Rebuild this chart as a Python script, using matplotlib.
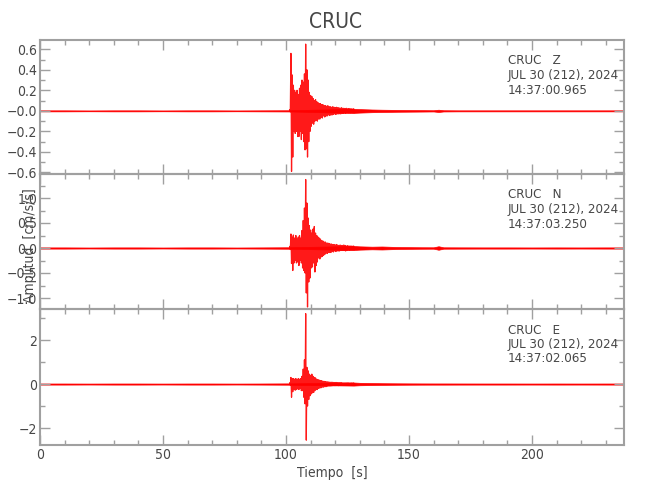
import numpy as np
import matplotlib
matplotlib.use("Agg")
import matplotlib.pyplot as plt
from matplotlib import font_manager
from matplotlib.ticker import MultipleLocator, FixedLocator

# narrow font like the IDL one, if a condensed face is around
cond = [f for f in font_manager.fontManager.ttflist
        if f.name == "DejaVu Sans" and "condensed" in str(f.stretch)]
if cond:
    plt.rcParams['font.family'] = ['DejaVu Sans']
    plt.rcParams['font.stretch'] = 'condensed'
else:
    plt.rcParams['font.family'] = ['Liberation Sans', 'DejaVu Sans']

# event window, envelope peaks every 0.5 s
t_event = np.arange(101.5, 128.0, 0.5)

z_up = [0.01, 0.56, 0.35, 0.25, 0.20, 0.18, 0.20, 0.16, 0.22, 0.25, 0.30, 0.28, 0.36, 0.65,
        0.40, 0.30, 0.18, 0.15, 0.14, 0.12, 0.10, 0.11, 0.09, 0.08, 0.07, 0.07, 0.06, 0.06,
        0.05, 0.05, 0.045, 0.05, 0.04, 0.04, 0.035, 0.04, 0.035, 0.03, 0.035, 0.03, 0.03,
        0.025, 0.03, 0.025, 0.025, 0.022, 0.025, 0.02, 0.022, 0.02, 0.02, 0.018, 0.02]
z_dn = [-0.01, -0.59, -0.45, -0.20, -0.22, -0.20, -0.25, -0.25, -0.20, -0.28, -0.22, -0.30,
        -0.38, -0.37, -0.45, -0.30, -0.20, -0.15, -0.12, -0.13, -0.10, -0.09, -0.10, -0.08,
        -0.08, -0.06, -0.07, -0.05, -0.06, -0.05, -0.05, -0.04, -0.045, -0.04, -0.04, -0.035,
        -0.03, -0.035, -0.03, -0.03, -0.028, -0.03, -0.025, -0.025, -0.022, -0.025, -0.02,
        -0.022, -0.02, -0.02, -0.018, -0.02, -0.018]

n_up = [0.03, 0.28, 0.22, 0.26, 0.20, 0.25, 0.18, 0.22, 0.25, 0.20, 0.35, 0.55, 0.80, 1.37,
        0.90, 0.60, 0.45, 0.36, 0.30, 0.38, 0.43, 0.30, 0.25, 0.22, 0.20, 0.18, 0.15, 0.14,
        0.12, 0.12, 0.10, 0.10, 0.09, 0.08, 0.08, 0.07, 0.07, 0.06, 0.07, 0.06, 0.05, 0.06,
        0.05, 0.05, 0.06, 0.05, 0.04, 0.045, 0.04, 0.04, 0.04, 0.035, 0.04]
n_dn = [-0.03, -0.31, -0.45, -0.30, -0.25, -0.30, -0.28, -0.35, -0.25, -0.30, -0.40, -0.45,
        -0.50, -0.90, -1.18, -0.68, -0.60, -0.40, -0.38, -0.30, -0.48, -0.35, -0.28, -0.20,
        -0.22, -0.18, -0.17, -0.15, -0.13, -0.10, -0.11, -0.09, -0.09, -0.09, -0.07, -0.08,
        -0.06, -0.07, -0.06, -0.06, -0.06, -0.05, -0.05, -0.05, -0.05, -0.06, -0.05, -0.04,
        -0.045, -0.04, -0.04, -0.04, -0.035]

e_up = [0.05, 0.30, 0.25, 0.25, 0.22, 0.25, 0.20, 0.25, 0.22, 0.25, 0.35, 0.68, 1.10, 3.20,
        0.76, 0.60, 0.45, 0.40, 0.45, 0.35, 0.30, 0.28, 0.22, 0.20, 0.18, 0.16, 0.15, 0.13,
        0.12, 0.11, 0.10, 0.10, 0.09, 0.08, 0.08, 0.08, 0.07, 0.07, 0.07, 0.06, 0.06, 0.06,
        0.06, 0.05, 0.05, 0.05, 0.05, 0.05, 0.05, 0.04, 0.05, 0.04, 0.05]
e_dn = [-0.05, -0.60, -0.35, -0.25, -0.28, -0.25, -0.22, -0.25, -0.20, -0.30, -0.30, -0.60,
        -0.90, -2.55, -1.00, -0.70, -0.53, -0.45, -0.40, -0.38, -0.30, -0.25, -0.25, -0.20,
        -0.18, -0.17, -0.14, -0.14, -0.12, -0.12, -0.10, -0.09, -0.09, -0.09, -0.08, -0.07,
        -0.07, -0.07, -0.06, -0.07, -0.06, -0.06, -0.05, -0.06, -0.05, -0.05, -0.05, -0.05,
        -0.04, -0.05, -0.04, -0.05, -0.04]

# quiet parts (noise level before and after the event)
t_quiet = [0, 10, 20, 30, 40, 50, 60, 70, 80, 90, 101.5, 127.5, 130, 135, 139, 145, 150,
           155, 160, 162, 164, 170, 180, 190, 200, 210, 220, 230, 237.4]
z_quiet = [0.005, 0.005, 0.004, 0.005, 0.005, 0.004, 0.005, 0.005, 0.004, 0.005, 0.006, 0.02,
           0.017, 0.013, 0.011, 0.009, 0.008, 0.007, 0.006, 0.011, 0.006, 0.005, 0.005, 0.005,
           0.005, 0.005, 0.005, 0.005, 0.005]
n_quiet = [0.012, 0.012, 0.01, 0.012, 0.012, 0.01, 0.012, 0.012, 0.01, 0.012, 0.015, 0.04,
           0.033, 0.026, 0.03, 0.02, 0.017, 0.015, 0.014, 0.035, 0.014, 0.013, 0.012, 0.012,
           0.011, 0.012, 0.011, 0.012, 0.012]
e_quiet = [0.025, 0.025, 0.022, 0.025, 0.025, 0.022, 0.025, 0.025, 0.022, 0.025, 0.03, 0.07,
           0.055, 0.045, 0.038, 0.033, 0.03, 0.028, 0.027, 0.027, 0.027, 0.026, 0.025, 0.025,
           0.024, 0.025, 0.024, 0.025, 0.025]

channels = ["Z", "N", "E"]
start_times = ["14:37:00.965", "14:37:03.250", "14:37:02.065"]
date_label = "JUL 30 (212), 2024"
station = "CRUC"

ylims = [(-0.615, 0.69), (-1.22, 1.48), (-2.77, 3.41)]
yticks = [[-0.6, -0.4, -0.2, 0.0, 0.2, 0.4, 0.6], [-1.0, -0.5, 0.0, 0.5, 1.0], [-2, 0, 2]]
yticklabels = [["\u22120.6", "\u22120.4", "\u22120.2", "\u22120.0", "0.2", "0.4", "0.6"],
               ["\u22121.0", "\u22120.5", "0.0", "0.5", "1.0"],
               ["\u22122", "0", "2"]]
yminor = [0.1, 0.25, 1.0]
xticks = [0, 50, 100, 150, 200]

ups = [z_up, n_up, e_up]
dns = [z_dn, n_dn, e_dn]
quiets = [z_quiet, n_quiet, e_quiet]

W, H = 650, 500
fig = plt.figure(figsize=(6.5, 5), dpi=100)
gray = "#a0a0a0"
txt = "#474747"
red = "#ff0000"

# panel boxes in pixels: (top, bottom)
boxes = [(40, 174), (174, 309), (309, 445)]
left, right = 40, 624

for i, (top, bot) in enumerate(boxes):
    ax = fig.add_axes([left / W, 1 - bot / H, (right - left) / W, (bot - top) / H])
    ax.set_facecolor("none")

    q = np.array(quiets[i])
    ax.fill_between(t_quiet, -q, q, color=red, lw=0.5)
    xs = np.column_stack((t_event, t_event + 0.25)).ravel()
    ys = np.column_stack((ups[i], dns[i])).ravel()
    ax.plot(xs, ys, color=red, lw=0.9, alpha=0.9)

    ax.set_xlim(0, 237.4)
    ax.set_ylim(*ylims[i])
    ax.xaxis.set_major_locator(FixedLocator(xticks))
    ax.xaxis.set_minor_locator(MultipleLocator(10))
    ax.yaxis.set_major_locator(FixedLocator(yticks[i]))
    ax.set_yticklabels(yticklabels[i])
    ax.yaxis.set_minor_locator(MultipleLocator(yminor[i]))
    ax.tick_params(which="both", direction="in", top=True, right=True, color=gray,
                   labelcolor=txt, labelsize=10, width=1)
    ax.tick_params(which="major", length=7, pad=2)
    ax.tick_params(which="minor", length=3.5)
    for s in ax.spines.values():
        s.set_color(gray)
        s.set_linewidth(1.5)
    if i < 2:
        ax.tick_params(labelbottom=False)
    else:
        ax.set_xticklabels([str(v) for v in xticks])
        ax.set_xlabel("Tiempo  [s]", fontsize=10, color=txt, labelpad=3)

    h = bot - top
    lines = [station + "   " + channels[i], date_label, start_times[i]]
    for k, s in enumerate(lines):
        ax.text(0.801, 1 - (21 + 14.5 * k) / h, s, transform=ax.transAxes,
                fontsize=9.5, color=txt, va="center", ha="left")

fig.text(30 / W, 1 - 246 / H, "Amplitud  [cm/s/s]", rotation=90, fontsize=10,
         color=txt, ha="center", va="center")
fig.text(336 / W, 1 - 22 / H, station, fontsize=15, color=txt, ha="center", va="center")

fig.savefig("out.png", dpi=100)
